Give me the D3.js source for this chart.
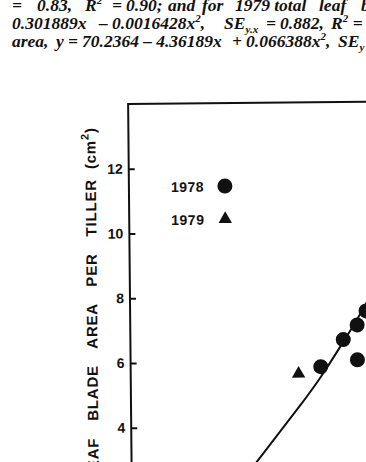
<!DOCTYPE html>
<html>
<head>
<meta charset="utf-8">
<script src="https://cdn.jsdelivr.net/npm/d3@7"></script>
<style>
  html, body { margin: 0; padding: 0; background: #fff; }
  svg { display: block; }
</style>
</head>
<body>
<svg id="chart" width="366" height="462"></svg>
<script>
// values (x axis is cut off, units estimated)
const yTicks = [2, 4, 6, 8, 10, 12];
const years = ['1978', '1979'];
const x1978 = [42.67, 43.47, 43.96, 43.96, 44.28];
const y1978 = [5.83, 6.66, 6.03, 7.11, 7.54];
const x1979 = [41.89];
const y1979 = [5.62];
const fitX = [39.65, 40.39, 41.19, 41.96, 42.67, 43.47, 43.96, 44.32, 44.67];
const fitY = [2.05, 2.91, 3.80, 4.66, 5.49, 6.59, 7.27, 7.82, 8.37];

// caption text above the figure, word by word: [target x, parts]
const captionLines = [
  [[12, [['=']]], [37, [['0.83,']]], [85, [['R'], ['2', 'sup']]], [112, [['=']]],
   [123, [['0.90;']]], [168, [['and']]], [202, [['for']]], [235, [['1979']]],
   [274, [['total']]], [319, [['leaf']]], [361, [['b']]]],
  [[12, [['0.301889x']]], [99, [['–']]], [110, [['0.0016428x'], ['2', 'sup'], [',']]],
   [224, [['SE'], ['y.x', 'sub']]], [266, [['=']]], [279, [['0.882,']]],
   [331, [['R'], ['2', 'sup']]], [350, [['=']]], [362, [['0']]]],
  [[12, [['area,']]], [56, [['y']]], [67, [['=']]], [79, [['70.2364']]], [143, [['–']]],
   [156, [['4.36189x']]], [232, [['+']]], [246, [['0.066388x'], ['2', 'sup'], [',']]],
   [338, [['SE'], ['y', 'sub']]]]
];

const svg = d3.select('#chart');

const caption = svg.append('g')
  .attr('font-family', '"Liberation Serif", "Times New Roman", serif')
  .attr('font-style', 'italic')
  .attr('font-weight', 'bold')
  .attr('font-size', 17.5)
  .attr('fill', '#111');

captionLines.forEach((words, i) => {
  const t = caption.append('text').attr('y', 11 + i * 18);
  let shift = 0;
  words.forEach(([target, parts]) => {
    const bb = t.node().getBBox();
    const end = bb.width ? bb.x + bb.width : 0;
    const wx = Math.max(target, end + 4);
    parts.forEach(([s, mode], j) => {
      const lift = mode === 'sup' ? -7 : mode === 'sub' ? 4 : 0;
      const sp = t.append('tspan').attr('dy', lift - shift).text(s);
      if (j === 0) sp.attr('x', wx);
      if (mode) sp.attr('font-size', 11);
      shift = lift;
    });
  });
});

// plot, slightly tilted like the scan
const x = d3.scaleLinear().domain([36, 48]).range([130, 130 + 12 * 28.5]);
const y = d3.scaleLinear().domain([0, 14]).range([104 + 14 * 32.375, 104]);

const plot = svg.append('g').attr('transform', 'rotate(-0.55, 130, 300)');

// frame: left axis and top edge
plot.append('path')
  .attr('d', `M${x(36)},${y(0)} V${y(14)} H${x(48)}`)
  .attr('fill', 'none')
  .attr('stroke', '#111')
  .attr('stroke-width', 2);

const yAxis = d3.axisLeft(y)
  .tickValues(yTicks)
  .tickSizeInner(-6)
  .tickSizeOuter(0)
  .tickPadding(6)
  .tickFormat(d3.format('d'));

const yG = plot.append('g')
  .attr('transform', `translate(${x(36)},0)`)
  .call(yAxis);
yG.select('.domain').remove();
yG.selectAll('.tick line').attr('stroke', '#111').attr('stroke-width', 2);
yG.selectAll('.tick text')
  .attr('fill', '#111')
  .attr('font-family', '"Liberation Sans", Arial, sans-serif')
  .attr('font-weight', 'bold')
  .attr('font-size', 14);

// y axis title
const yTitle = plot.append('text')
  .attr('transform', 'translate(97,127) rotate(-90)')
  .attr('text-anchor', 'end')
  .attr('font-family', '"Liberation Sans", Arial, sans-serif')
  .attr('font-weight', 'bold')
  .attr('font-size', 15)
  .attr('letter-spacing', 0.8)
  .attr('word-spacing', 12)
  .attr('fill', '#111');
yTitle.append('tspan').text('LEAF BLADE AREA PER TILLER');
yTitle.append('tspan').attr('dx', 10).text('(cm');
yTitle.append('tspan').attr('dy', -7).attr('font-size', 11).text('2');
yTitle.append('tspan').attr('dy', 7).text(')');

// fitted curve
const line = d3.line()
  .x((d, i) => x(fitX[i]))
  .y((d, i) => y(fitY[i]))
  .curve(d3.curveBasis);

plot.append('path')
  .attr('d', line(fitX))
  .attr('fill', 'none')
  .attr('stroke', '#111')
  .attr('stroke-width', 2);

// points
plot.selectAll('circle.p1978')
  .data(x1978)
  .join('circle')
  .attr('class', 'p1978')
  .attr('cx', (d) => x(d))
  .attr('cy', (d, i) => y(y1978[i]))
  .attr('r', 7.5)
  .attr('fill', '#111');

const tri = d3.symbol().type(d3.symbolTriangle).size(78);
plot.selectAll('path.p1979')
  .data(x1979)
  .join('path')
  .attr('class', 'p1979')
  .attr('d', tri)
  .attr('transform', (d, i) => `translate(${x(d)},${y(y1979[i])})`)
  .attr('fill', '#111');

// legend
const legend = plot.append('g')
  .attr('font-family', '"Liberation Sans", Arial, sans-serif')
  .attr('font-weight', 'bold')
  .attr('font-size', 14)
  .attr('letter-spacing', 0.5)
  .attr('fill', '#111');

years.forEach((yr, i) => {
  const ly = 187 + i * 33;
  legend.append('text').attr('x', 172).attr('y', ly + 5.5).text(yr);
  if (i === 0) {
    legend.append('circle').attr('cx', 226).attr('cy', ly).attr('r', 7.5);
  } else {
    legend.append('path').attr('d', tri).attr('transform', `translate(226,${ly})`);
  }
});
</script>
</body>
</html>
